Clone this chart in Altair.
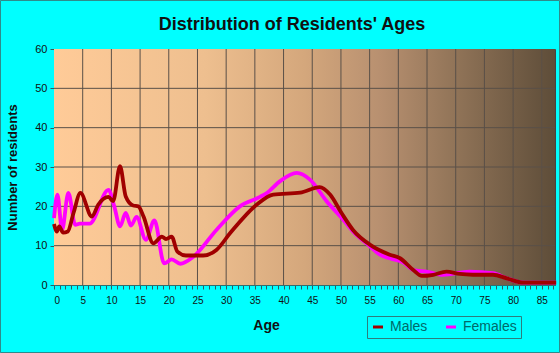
import altair as alt
import pandas as pd

# ---- data ----
male_age = [0, 0.5, 0.9, 1.6, 2.4, 3.4, 4.6, 6.6, 7.7, 9.5, 10.3, 11.5, 12.5, 13.8, 14.7, 15.6,
            17.3, 18.8, 19.5, 20.5, 21.5, 23, 26, 28.3, 30.7, 35.3, 38.2, 42.9, 46.3, 48.1,
            50.1, 52.1, 55.1, 58.5, 60.3, 62.6, 64.1, 66.1, 68.4, 70.7, 73, 76.5, 78.9, 81.8, 87.5]
male_val = [15.5, 13.6, 14.9, 13.3, 13.6, 18.3, 23.4, 17.4, 20.4, 22.4, 21.3, 30.2, 22.5, 20.2, 20.0, 17.4,
            10.6, 12.3, 11.7, 12.3, 8.5, 7.5, 7.5, 8.9, 13.2, 20.4, 23.0, 23.5, 24.9, 23.0,
            18.3, 14.0, 10.2, 7.7, 6.8, 3.8, 2.3, 2.6, 3.4, 2.8, 2.6, 2.6, 1.7, 0.6, 0.6]

female_age = [0, 0.6, 1.4, 2.5, 3.7, 4.5, 6.2, 9.5, 10.5, 11.5, 12.5, 13.4, 14.4, 16.0, 17.5,
              19.2, 20.5, 22, 24.3, 28.3, 32.4, 35.9, 37.1, 39.4, 42.3, 44.6, 47.5, 50.4, 52.1,
              55.1, 56.8, 58.5, 60.9, 62.6, 64.9, 67.8, 72.4, 76.5, 78.9, 81.8, 87.5]
female_val = [17.0, 23.0, 14.0, 23.4, 15.3, 15.6, 15.6, 24.2, 20.0, 14.9, 18.3, 15.1, 17.3, 11.5, 16.4,
              5.5, 6.5, 5.4, 7.2, 14.0, 20.0, 22.4, 23.4, 26.4, 28.5, 26.8, 21.3, 16.6, 13.6,
              9.8, 7.7, 6.8, 5.7, 3.8, 3.4, 2.6, 3.4, 3.0, 1.7, 0.6, 0.6]

title_text = "Distribution of Residents' Ages"
series_names = ["Males", "Females"]
series_colors = ["#A00000", "#FF00FF"]
x_tick_values = list(range(0, 88))
grid_x = list(range(5, 90, 5))
grid_y = [10, 20, 30, 40, 50]

W, H = 501, 236

males = pd.DataFrame({"age": male_age, "n": male_val, "sex": "Males"})
females = pd.DataFrame({"age": female_age, "n": female_val, "sex": "Females"})

xscale = alt.Scale(domain=[0, 87.3], nice=False, zero=False)
yscale = alt.Scale(domain=[0, 60], nice=False)
cscale = alt.Scale(domain=series_names, range=series_colors)

AX = alt.Axis(
    values=x_tick_values, title="Age", grid=False,
    labelExpr="datum.value % 5 === 0 ? datum.label : ''", labelOverlap=False,
    labelFont="Liberation Sans", labelFontSize=10, labelColor="#111111", labelPadding=6,
    tickSize=4, tickColor="#2F5F5F", domainColor="#2F6F6F",
    titleFont="Liberation Sans", titleFontSize=14, titleFontWeight="bold", titleColor="#111111",
    titleX=212, titleY=40, titleBaseline="middle", titleAnchor="middle",
)
AY = alt.Axis(
    values=[0, 10, 20, 30, 40, 50, 60], title="Number of residents", grid=False,
    labelFont="Liberation Sans", labelFontSize=11, labelColor="#111111", labelPadding=3,
    tickSize=4, tickColor="#2F5F5F", domainColor="#2F6F6F",
    titleFont="Liberation Sans", titleFontSize=13, titleFontWeight="bold", titleColor="#111111",
    titleX=-42, titleY=H / 2, titleBaseline="middle", titleAngle=270, titleAnchor="middle",
)
LEG = alt.Legend(
    title=None, orient="none", legendX=313, legendY=267, direction="horizontal",
    symbolType="stroke", symbolStrokeWidth=3, symbolSize=100,
    labelFont="Liberation Sans", labelFontSize=14, labelColor="#006A6A", labelOffset=5,
    strokeColor="#2E7D7D", fillColor="#00FFFF", padding=4, columnPadding=12,
)

gradient = {
    "gradient": "linear", "x1": 0, "x2": 1, "y1": 0, "y2": 0,
    "stops": [
        {"offset": 0.0, "color": "#FFCB98"},
        {"offset": 0.3, "color": "#EEBF8F"},
        {"offset": 0.5, "color": "#D4A77C"},
        {"offset": 0.65, "color": "#B89070"},
        {"offset": 0.8, "color": "#917458"},
        {"offset": 1.0, "color": "#5E4D39"},
    ],
}

bg = alt.Chart(alt.Data(values=[{}])).mark_rect(color=gradient).encode(
    x=alt.value(0), x2=alt.value(W), y=alt.value(0), y2=alt.value(H)
)
gx = alt.Chart(pd.DataFrame({"age": grid_x})).mark_rule(color="#5A5048", strokeWidth=1).encode(
    x=alt.X("age:Q", scale=xscale, axis=AX)
)
gy = alt.Chart(pd.DataFrame({"n": grid_y})).mark_rule(color="#5A5048", strokeWidth=1).encode(
    y=alt.Y("n:Q", scale=yscale, axis=AY)
)

def line(df):
    return alt.Chart(df).mark_line(strokeWidth=3.8, interpolate="monotone").encode(
        x=alt.X("age:Q", scale=xscale, axis=AX),
        y=alt.Y("n:Q", scale=yscale, axis=AY),
        color=alt.Color("sex:N", scale=cscale, legend=LEG),
    )

border = alt.Chart(alt.Data(values=[{}])).mark_rect(
    filled=False, stroke="#2E8B8B", strokeWidth=1
).encode(x=alt.value(-53.5), x2=alt.value(505.5), y=alt.value(-48.5), y2=alt.value(303.5))

title = alt.Chart(alt.Data(values=[{"t": title_text}])).mark_text(
    font="Liberation Sans", fontSize=18, fontWeight="bold", color="#111111",
    align="center", baseline="alphabetic",
).encode(text="t:N", x=alt.value(238), y=alt.value(-19))

chart = alt.layer(bg, gx, gy, line(females), line(males), border, title).properties(
    width=W, height=H,
    autosize=alt.AutoSizeParams(type="none"),
    padding={"left": 54, "top": 49, "right": 5, "bottom": 68},
).configure(background="#00FFFF").configure_view(stroke="#444444", strokeWidth=1)

chart.save("out.html", embed_options={"renderer": "svg", "actions": False})
